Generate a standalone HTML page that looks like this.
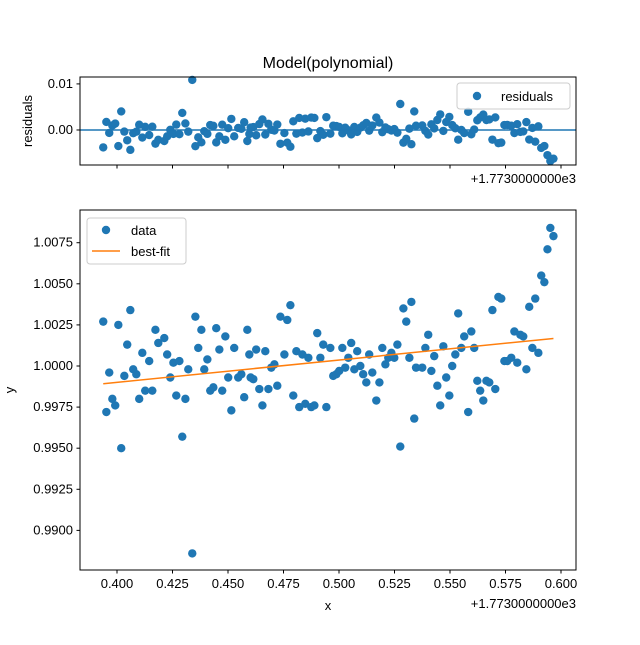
<!DOCTYPE html>
<html><head><meta charset="utf-8"><style>
body{margin:0;background:#fff}
svg text{font-family:"Liberation Sans","DejaVu Sans",sans-serif;fill:#000}
</style></head><body>
<svg id="fig" width="640" height="640" viewBox="0 0 640 640" xmlns="http://www.w3.org/2000/svg">
<rect width="640" height="640" fill="#fff"/>
<text x="328" y="68" font-size="16" text-anchor="middle">Model(polynomial)</text>
<g id="topPanel"></g>
<g id="botPanel"></g>
</svg>
<script>
const xVals=[0.3938,0.3952,0.3965,0.3979,0.3992,0.4006,0.4019,0.4033,0.4046,0.4060,0.4073,0.4087,0.4100,0.4114,0.4127,0.4145,0.4159,0.4173,0.4186,0.4213,0.4226,0.4240,0.4254,0.4267,0.4281,0.4294,0.4308,0.4321,0.4339,0.4353,0.4366,0.4380,0.4393,0.4407,0.4420,0.4434,0.4447,0.4461,0.4474,0.4488,0.4501,0.4515,0.4528,0.4546,0.4560,0.4573,0.4587,0.4596,0.4602,0.4614,0.4627,0.4641,0.4655,0.4668,0.4682,0.4695,0.4709,0.4722,0.4736,0.4754,0.4767,0.4781,0.4794,0.4808,0.4821,0.4835,0.4848,0.4862,0.4875,0.4889,0.4902,0.4916,0.4929,0.4943,0.4961,0.4974,0.4988,0.5001,0.5015,0.5028,0.5042,0.5055,0.5069,0.5082,0.5096,0.5109,0.5123,0.5136,0.5150,0.5168,0.5182,0.5195,0.5209,0.5222,0.5236,0.5249,0.5263,0.5276,0.5290,0.5303,0.5317,0.5326,0.5339,0.5347,0.5375,0.5389,0.5402,0.5416,0.5429,0.5443,0.5456,0.5470,0.5483,0.5497,0.5510,0.5524,0.5537,0.5551,0.5564,0.5582,0.5596,0.5609,0.5623,0.5636,0.5650,0.5664,0.5677,0.5691,0.5704,0.5718,0.5731,0.5745,0.5758,0.5776,0.5790,0.5803,0.5817,0.5830,0.5844,0.5857,0.5871,0.5884,0.5898,0.5911,0.5925,0.5939,0.5952,0.5966];
const yVals=[1.0027,0.9972,0.9996,0.9980,0.9976,1.0025,0.9950,0.9994,1.0013,1.0034,0.9998,0.9995,0.9980,1.0008,0.9985,1.0003,0.9985,1.0022,1.0014,1.0017,1.0007,0.9993,1.0002,0.9982,1.0003,0.9957,0.9980,0.9998,0.9886,1.0030,1.0011,1.0022,0.9998,1.0004,0.9985,0.9987,1.0023,1.0010,0.9985,1.0018,0.9993,0.9973,1.0011,0.9993,0.9995,0.9981,1.0022,1.0007,0.9993,0.9992,1.0010,0.9986,0.9976,1.0009,0.9986,0.9999,1.0001,0.9988,1.0030,1.0007,1.0028,1.0037,0.9982,1.0009,0.9975,1.0007,0.9977,1.0005,0.9975,0.9976,1.0020,1.0005,1.0013,0.9975,1.0011,0.9994,0.9995,0.9997,1.0011,0.9999,1.0005,1.0014,0.9998,1.0009,1.0000,0.9995,0.9990,1.0007,0.9996,0.9979,0.9990,1.0011,1.0001,1.0005,1.0008,1.0005,1.0013,0.9951,1.0035,1.0027,1.0005,1.0039,0.9968,0.9999,0.9999,1.0011,1.0019,0.9997,1.0006,0.9988,0.9976,1.0012,0.9993,0.9982,1.0000,1.0007,1.0032,1.0011,1.0018,0.9972,1.0021,1.0011,0.9991,0.9985,0.9979,0.9991,0.9990,1.0034,0.9986,1.0042,1.0041,1.0003,1.0003,1.0005,1.0021,1.0002,1.0019,1.0018,0.9998,1.0036,1.0011,1.0041,1.0008,1.0055,1.0051,1.0071,1.0084,1.0079];
const xTicks=[0.400,0.425,0.450,0.475,0.500,0.525,0.550,0.575,0.600];
const xTickLabels=["0.400","0.425","0.450","0.475","0.500","0.525","0.550","0.575","0.600"];
const yTicks=[0.9900,0.9925,0.9950,0.9975,1.0000,1.0025,1.0050,1.0075];
const yTickLabels=["0.9900","0.9925","0.9950","0.9975","1.0000","1.0025","1.0050","1.0075"];
const rTicks=[0.00,0.01];
const rTickLabels=["0.00","0.01"];

const NS="http://www.w3.org/2000/svg";
const C0="#1f77b4",C1="#ff7f0e";
function mk(p,tag,a,txt){const e=document.createElementNS(NS,tag);for(const k in a)e.setAttribute(k,a[k]);if(txt!==undefined)e.textContent=txt;p.appendChild(e);return e;}
const X0=80,X1=576,xmin=0.38333,xmax=0.60676;
const sx=v=>X0+(v-xmin)/(xmax-xmin)*(X1-X0);
const B0=210,B1=570,bmin=0.98759,bmax=1.00949;
const sy=v=>B1-(v-bmin)/(bmax-bmin)*(B1-B0);
const T0=77,T1=165,rmin=-0.0076,rmax=0.0115;
const sr=v=>T1-(v-rmin)/(rmax-rmin)*(T1-T0);

const nPts=xVals.length;let mx=0,my=0;for(let i=0;i<nPts;i++){mx+=xVals[i];my+=yVals[i];}mx/=nPts;my/=nPts;
let sxy=0,sxx=0;for(let i=0;i<nPts;i++){sxy+=(xVals[i]-mx)*(yVals[i]-my);sxx+=(xVals[i]-mx)**2;}
const slope=sxy/sxx,icpt=my-slope*mx;const fit=x=>icpt+slope*x;

const topG=document.getElementById('topPanel'),botG=document.getElementById('botPanel');
let grp=mk(topG,'g',{});


mk(topG,'line',{x1:X0,x2:X1,y1:sr(0),y2:sr(0),stroke:C0,'stroke-width':1.5,});
for(let i=0;i<nPts;i++){const c=mk(grp,'circle',{cx:sx(xVals[i]),cy:sr(fit(xVals[i])-yVals[i]),r:4.2,fill:C0});

}
mk(topG,'rect',{x:X0,y:T0,width:X1-X0,height:T1-T0,fill:'none',stroke:'#000','stroke-width':1,});
xTicks.forEach(t=>{const e=mk(topG,'line',{x1:sx(t),x2:sx(t),y1:T1,y2:T1+3.5,stroke:'#000'});

});
rTicks.forEach((t,i)=>{mk(topG,'line',{x1:X0-3.5,x2:X0,y1:sr(t),y2:sr(t),stroke:'#000'});
const e=mk(topG,'text',{x:X0-7,y:sr(t)+4,'font-size':13,'text-anchor':'end'},rTickLabels[i]);

});
mk(topG,'text',{x:576,y:183,'font-size':13,'text-anchor':'end',},'+1.7730000000e3');
mk(topG,'text',{x:32,y:121,'font-size':13,'text-anchor':'middle',transform:'rotate(-90 32 121)',},'residuals');
let lg=mk(topG,'g',{});
mk(lg,'rect',{x:457,y:83,width:113,height:26,rx:3,fill:'#fff','fill-opacity':0.8,stroke:'#ccc'});
mk(lg,'circle',{cx:477,cy:96,r:4.2,fill:C0});
mk(lg,'text',{x:501,y:101,'font-size':13},'residuals');

grp=mk(botG,'g',{});


for(let i=0;i<nPts;i++){const c=mk(grp,'circle',{cx:sx(xVals[i]),cy:sy(yVals[i]),r:4.2,fill:C0});

}
const xa=xVals[0],xb=xVals[nPts-1];
mk(botG,'line',{x1:sx(xa),y1:sy(fit(xa)),x2:sx(xb),y2:sy(fit(xb)),stroke:C1,'stroke-width':1.5,});
mk(botG,'rect',{x:X0,y:B0,width:X1-X0,height:B1-B0,fill:'none',stroke:'#000',});
xTicks.forEach((t,i)=>{mk(botG,'line',{x1:sx(t),x2:sx(t),y1:B1,y2:B1+3.5,stroke:'#000'});
const e=mk(botG,'text',{x:sx(t),y:B1+18,'font-size':13,'text-anchor':'middle'},xTickLabels[i]);

});
yTicks.forEach((t,i)=>{mk(botG,'line',{x1:X0-3.5,x2:X0,y1:sy(t),y2:sy(t),stroke:'#000'});
const e=mk(botG,'text',{x:X0-7,y:sy(t)+4,'font-size':13,'text-anchor':'end'},yTickLabels[i]);

});
mk(botG,'text',{x:576,y:608,'font-size':13,'text-anchor':'end',},'+1.7730000000e3');
mk(botG,'text',{x:328,y:610,'font-size':13,'text-anchor':'middle',},'x');
mk(botG,'text',{x:14,y:390,'font-size':13,'text-anchor':'middle',transform:'rotate(-90 14 390)',},'y');
lg=mk(botG,'g',{});
mk(lg,'rect',{x:87,y:218,width:99,height:46,rx:3,fill:'#fff','fill-opacity':0.8,stroke:'#ccc'});
mk(lg,'circle',{cx:106,cy:230,r:4.2,fill:C0});
mk(lg,'text',{x:131,y:235,'font-size':13},'data');
mk(lg,'line',{x1:92,x2:120,y1:251,y2:251,stroke:C1,'stroke-width':1.5});
mk(lg,'text',{x:131,y:256,'font-size':13},'best-fit');
</script>
</body></html>
